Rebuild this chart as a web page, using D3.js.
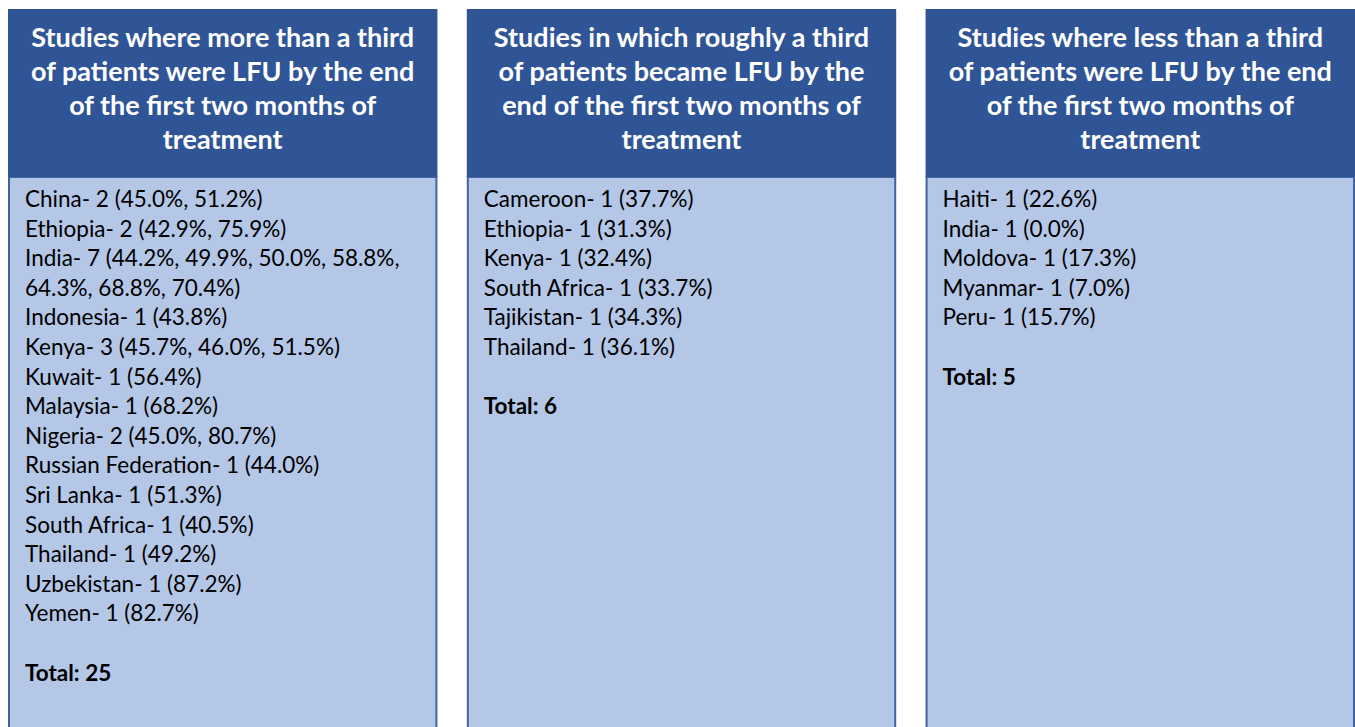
<!DOCTYPE html>
<html>
<head>
<meta charset="utf-8">
<script src="https://cdn.jsdelivr.net/npm/d3@7"></script>
<style>
  body { margin: 0; background: #fff; }
  svg { display: block; }
</style>
</head>
<body>
<svg id="chart" width="1355" height="727"></svg>
<script>
'use strict';

// panel headings, already split in lines like the slide
const titles = [
    ['Studies where more than a third', 'of patients were LFU by the end', 'of the first two months of', 'treatment'],
    ['Studies in which roughly a third', 'of patients became LFU by the', 'end of the first two months of', 'treatment'],
    ['Studies where less than a third', 'of patients were LFU by the end', 'of the first two months of', 'treatment']
];

// more than a third
const moreCountries = ['China', 'Ethiopia', 'India', 'Indonesia', 'Kenya', 'Kuwait', 'Malaysia', 'Nigeria',
    'Russian Federation', 'Sri Lanka', 'South Africa', 'Thailand', 'Uzbekistan', 'Yemen'];
const moreRates = [[45.0, 51.2], [42.9, 75.9], [44.2, 49.9, 50.0, 58.8, 64.3, 68.8, 70.4], [43.8],
    [45.7, 46.0, 51.5], [56.4], [68.2], [45.0, 80.7], [44.0], [51.3], [40.5], [49.2], [87.2], [82.7]];

// roughly a third
const aboutCountries = ['Cameroon', 'Ethiopia', 'Kenya', 'South Africa', 'Tajikistan', 'Thailand'];
const aboutRates = [[37.7], [31.3], [32.4], [33.7], [34.3], [36.1]];

// less than a third
const lessCountries = ['Haiti', 'India', 'Moldova', 'Myanmar', 'Peru'];
const lessRates = [[22.6], [0.0], [17.3], [7.0], [15.7]];

const totals = [25, 6, 5];

const W = 1355, H = 727;
const headTop = 9, headBottom = 177;
const lineH = 29.6;
const fontFam = 'Lato, "Open Sans", sans-serif';
const bodySize = '22.5px';

const svg = d3.select('#chart');

const x = d3.scaleBand()
    .domain(d3.range(3))
    .range([8, W])
    .paddingInner(0.064)
    .paddingOuter(0);

const panels = [
    {countries: moreCountries, rates: moreRates},
    {countries: aboutCountries, rates: aboutRates},
    {countries: lessCountries, rates: lessRates}
];

function rowText(c, r) {
    return c + '- ' + r.length + ' (' + r.map(function(v) {return v.toFixed(1) + '%';}).join(', ') + ')';
}

function measure(s) {
    const t = svg.append('text')
        .style('font-family', fontFam)
        .style('font-size', bodySize)
        .text(s);
    const w = t.node().getComputedTextLength();
    t.remove();
    return w;
}

const g = svg.selectAll('g.panel')
    .data(panels)
    .enter()
    .append('g')
    .attr('class', 'panel')
    .attr('transform', function(d, i) {return 'translate(' + x(i) + ',0)';});

// body box
g.append('rect')
    .attr('x', 1)
    .attr('y', headBottom)
    .attr('width', x.bandwidth() - 2)
    .attr('height', H + 20 - headBottom)
    .style('fill', '#b4c7e7')
    .style('stroke', '#41649f')
    .style('stroke-width', 2);

// header box
g.append('rect')
    .attr('x', 0)
    .attr('y', headTop)
    .attr('width', x.bandwidth())
    .attr('height', headBottom - headTop)
    .style('fill', '#2f5597');

g.each(function(d, i) {
    const p = d3.select(this);
    const bw = x.bandwidth();

    p.append('text')
        .attr('x', bw / 2)
        .attr('y', 47)
        .attr('text-anchor', 'middle')
        .style('font-family', fontFam)
        .style('font-weight', 'bold')
        .style('font-size', '27px')
        .style('fill', '#fff')
        .selectAll('tspan')
        .data(titles[i])
        .enter()
        .append('tspan')
        .attr('x', bw / 2)
        .attr('dy', function(t, k) {return k === 0 ? 0 : 34;})
        .text(function(t) {return t;});

    // wrap the rows to the box width
    const maxW = bw - 34;
    const lines = [];
    d.countries.forEach(function(c, k) {
        const words = rowText(c, d.rates[k]).split(' ');
        let cur = '';
        words.forEach(function(w) {
            const test = cur ? cur + ' ' + w : w;
            if (cur && measure(test) > maxW) {
                lines.push(cur);
                cur = w;
            } else {
                cur = test;
            }
        });
        lines.push(cur);
    });

    const body = p.append('g');
    body.selectAll('text.row')
        .data(lines)
        .enter()
        .append('text')
        .attr('class', 'row')
        .attr('x', 17)
        .attr('y', function(t, k) {return 207 + k * lineH;})
        .style('font-family', fontFam)
        .style('font-size', bodySize)
        .style('fill', '#000')
        .text(function(t) {return t;});

    body.append('text')
        .attr('x', 17)
        .attr('y', 207 + (lines.length + 1) * lineH)
        .style('font-family', fontFam)
        .style('font-weight', 'bold')
        .style('font-size', bodySize)
        .style('fill', '#000')
        .text('Total: ' + totals[i]);
});
</script>
</body>
</html>
